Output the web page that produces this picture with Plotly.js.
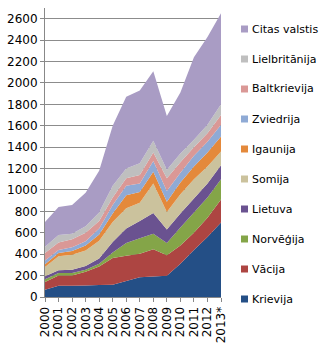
<!DOCTYPE html>
<html>
<head>
<meta charset="utf-8">
<script src="https://cdn.plot.ly/plotly-3.0.1.min.js"></script>
<style>
  html, body { margin: 0; padding: 0; background: #fff; }
  #chart { width: 321px; height: 350px; }
</style>
</head>
<body>
<div id="chart"></div>
<script>
// Years on the category axis (2013 is a preliminary figure)
const years = ['2000', '2001', '2002', '2003', '2004', '2005', '2006', '2007', '2008', '2009', '2010', '2011', '2012', '2013*'];

// Values per country, stacked bottom to top
const krievija      = [68, 105, 105, 108, 112, 115, 150, 185, 192, 198, 310, 440, 560, 695];
const vacija        = [72, 95, 95, 127, 173, 250, 235, 220, 253, 192, 170, 160, 180, 215];
const norvegija     = [25, 25, 25, 20, 25, 50, 120, 145, 145, 115, 170, 190, 190, 190];
const lietuva       = [30, 25, 30, 35, 50, 100, 135, 160, 195, 125, 130, 130, 130, 130];
const somija        = [85, 130, 140, 145, 165, 185, 190, 170, 275, 165, 180, 180, 160, 130];
const igaunija      = [25, 30, 35, 45, 60, 80, 120, 100, 110, 95, 110, 120, 130, 140];
const zviedrija     = [35, 30, 35, 40, 55, 80, 90, 80, 100, 100, 90, 100, 100, 110];
const baltkrievija  = [70, 70, 75, 80, 70, 70, 70, 80, 80, 120, 100, 80, 80, 90];
const lielbritanija = [60, 70, 50, 60, 80, 110, 90, 110, 110, 80, 80, 70, 80, 100];
const citas         = [230, 260, 270, 315, 390, 560, 670, 680, 650, 500, 570, 770, 820, 850];

const seriesNames = ['Krievija', 'Vācija', 'Norvēģija', 'Lietuva', 'Somija', 'Igaunija', 'Zviedrija', 'Baltkrievija', 'Lielbritānija', 'Citas valstis'];
const seriesValues = [krievija, vacija, norvegija, lietuva, somija, igaunija, zviedrija, baltkrievija, lielbritanija, citas];
const seriesColors = ['#244f86', '#ad4542', '#84a548', '#6a5290', '#cbc29d', '#e4893b', '#8faad5', '#da9896', '#bfbfbf', '#a99cc4'];

// Plot area in pixels (used to place the key beside it)
const W = 321, H = 350;
const M = { l: 45, r: 100, t: 8, b: 53 };
const plotW = W - M.l - M.r;
const plotH = H - M.t - M.b;
const px2x = px => (px - M.l) / plotW;
const px2y = py => (H - M.b - py) / plotH;

const traces = seriesNames.map((name, i) => ({
  type: 'scatter',
  x: years,
  y: seriesValues[i],
  name: name,
  stackgroup: 'one',
  mode: 'none',
  fillcolor: seriesColors[i],
  line: { width: 0 },
  showlegend: false,
  hoverinfo: 'x+y+name'
}));

// Key on the right: a coloured square and the country name, top entry = top layer
const shapes = [];
const annotations = [];
const keyTop = 29, keyStep = 30, sq = 7;
seriesNames.forEach((name, i) => {
  const row = seriesNames.length - 1 - i;
  const cy = keyTop + row * keyStep;
  shapes.push({
    type: 'rect', xref: 'paper', yref: 'paper',
    x0: px2x(241), x1: px2x(241 + sq),
    y0: px2y(cy + sq / 2), y1: px2y(cy - sq / 2),
    fillcolor: seriesColors[i], line: { width: 0 }
  });
  annotations.push({
    xref: 'paper', yref: 'paper',
    x: px2x(250), y: px2y(cy),
    xanchor: 'left', yanchor: 'middle',
    text: name, showarrow: false,
    font: { size: 11, color: '#000' }
  });
});

const layout = {
  width: W,
  height: H,
  margin: M,
  paper_bgcolor: '#ffffff',
  plot_bgcolor: '#ffffff',
  font: { family: 'DejaVu Sans, Verdana, sans-serif', size: 12, color: '#000' },
  showlegend: false,
  shapes: shapes,
  annotations: annotations,
  xaxis: {
    type: 'category',
    range: [0, 13],
    tickmode: 'linear',
    tick0: 0,
    dtick: 1,
    tickangle: -90,
    ticks: 'outside',
    ticklen: 4,
    tickcolor: '#888',
    showline: true,
    linecolor: '#888',
    showgrid: false,
    zeroline: false,
    tickfont: { size: 12 },
    fixedrange: true
  },
  yaxis: {
    range: [0, 2700],
    tickvals: [0, 200, 400, 600, 800, 1000, 1200, 1400, 1600, 1800, 2000, 2200, 2400, 2600],
    ticks: 'outside',
    ticklen: 4,
    tickcolor: '#888',
    showline: true,
    linecolor: '#888',
    showgrid: true,
    gridcolor: '#8c8c8c',
    gridwidth: 1,
    zeroline: false,
    tickfont: { size: 12 },
    fixedrange: true
  }
};

Plotly.newPlot('chart', traces, layout, { displayModeBar: false, staticPlot: true });
</script>
</body>
</html>
